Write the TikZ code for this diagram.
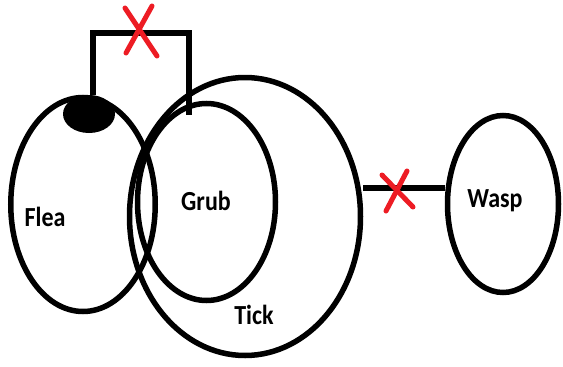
\documentclass[tikz,border=0pt]{standalone}
\usepackage{fontspec}
\setmainfont{Carlito}
\usetikzlibrary{shapes.geometric}
\definecolor{xred}{RGB}{237,28,36}
\tikzset{
  set/.style={ellipse, draw=black, line width=5.5pt, inner sep=0pt},
  lbl/.style={font=\fontsize{24}{24}\selectfont\bfseries, inner sep=0pt, text=black},
  link/.style={draw=black, line width=6pt},
  cross/.style={draw=xred, line width=5pt, line cap=round},
}
\newcommand{\tall}[1]{\scalebox{1}[1.15]{#1}}
\begin{document}
\begin{tikzpicture}[x=1pt,y=-1pt]
\useasboundingbox (0,0) rectangle (563,367);
% sets
\node[set, minimum width=144.5pt, minimum height=214pt] (flea) at (83,204.5) {};
\node[set, minimum width=138pt, minimum height=197pt] (grub) at (206.5,202) {};
\node[set, minimum width=231pt, minimum height=278pt] (tick) at (245,216.5) {};
\node[set, minimum width=111pt, minimum height=177pt] (wasp) at (503,204) {};
% blob
\node[ellipse, fill=black, minimum width=52pt, minimum height=38pt, inner sep=0pt] (blob) at (89,114) {};
% labels
\node[lbl] (tflea) at (45,217) {\tall{Flea}};
\node[lbl] (tgrub) at (206,201) {\tall{Grub}};
\node[lbl] (ttick) at (254,315) {\tall{Tick}};
\node[lbl] (twasp) at (495,201) {\tall{Wasp}};
% top connector
\coordinate (c1) at (93,33);
\coordinate (c2) at (189,33);
\coordinate (c3) at (189,115);
\draw[link] (blob.north -| c1) -- (c1) -- (c2) -- (c3);
% tick - wasp connector
\draw[link] (tick.east |- 0,188) -- (wasp.west |- 0,188);
% red crosses
\draw[cross] (125,8) -- (157,56);
\draw[cross] (152,6) -- (126,53);
\draw[cross] (382,175) -- (413,207);
\draw[cross] (407,171) -- (386,211);
\end{tikzpicture}
\end{document}
